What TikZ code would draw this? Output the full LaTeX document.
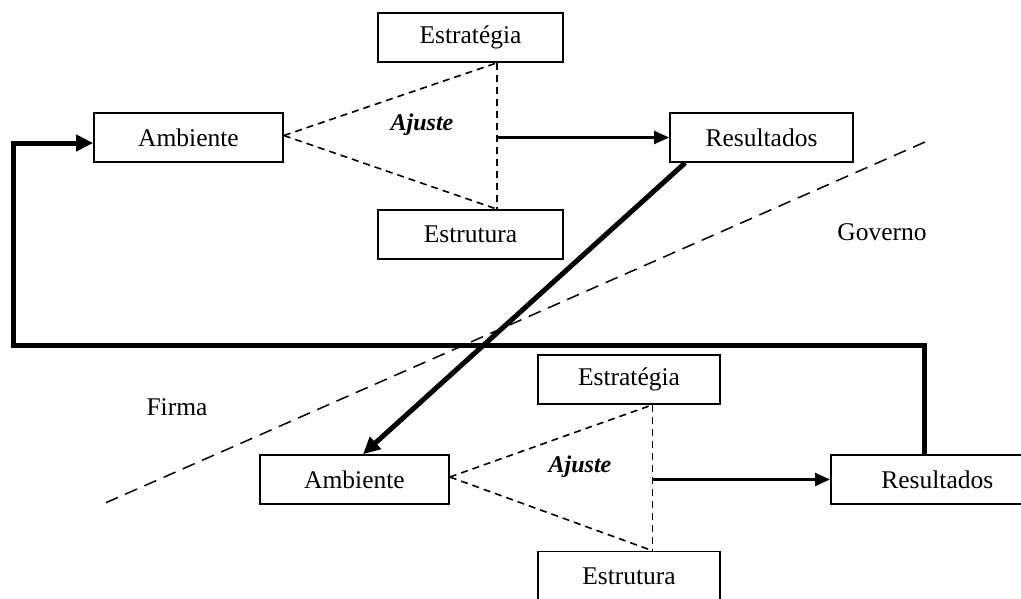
\documentclass[tikz,border=0pt]{standalone}
\usepackage{fontspec}
\setmainfont{Liberation Serif}
\usetikzlibrary{arrows.meta}
\begin{document}
\begin{tikzpicture}[x=1pt,y=-1pt,
  txt/.style={font=\fontsize{25.5}{30}\selectfont, inner sep=0pt},
  boxn/.style={draw, line width=1.7pt, minimum height=49pt, inner sep=0pt, font=\fontsize{25.5}{30}\selectfont},
  ajl/.style={font=\fontsize{24}{28}\selectfont\bfseries\itshape, inner sep=0pt},
  fitline/.style={line width=1.6pt, dash pattern=on 7pt off 5pt},
  sepline/.style={line width=1.5pt, dash pattern=on 13pt off 8pt},
  thinarrow/.style={line width=2.2pt, -{Triangle[length=15pt,width=13pt]}},
  thickarrow/.style={line width=5pt, -{Triangle[length=17pt,width=16pt]}}
]
\useasboundingbox (0,0) rectangle (1021,598);
\clip (0,0) rectangle (1021,598);
% top cluster
\node[boxn, minimum width=185pt] (estT) at (470.5,37.5) {Estratégia};
\node[boxn, minimum width=189pt] (ambT) at (188.5,137.5) {Ambiente};
\node[boxn, minimum width=185pt] (struT) at (470.5,234.5) {Estrutura};
\node[boxn, minimum width=183pt] (resT) at (761.5,137.5) {Resultados};
\node[ajl] (ajT) at (422,125) {Ajuste};
% bottom cluster
\node[boxn, minimum width=182pt] (estB) at (629,379.5) {Estratégia};
\node[boxn, minimum width=189pt] (ambB) at (354.5,479.5) {Ambiente};
\node[boxn, minimum width=182pt] (struB) at (629,576) {Estrutura};
\node[boxn, minimum width=260pt, anchor=west] (resB) at (830,479.5) {Resultados\hspace*{47pt}};
\node[ajl] (ajB) at (580,467) {Ajuste};
% region labels
\node[txt] (gov) at (882,232) {Governo};
\node[txt] (firma) at (177,407) {Firma};
% top fit triangle
\coordinate (vT1) at ([xshift=26.5pt]estT.south);
\coordinate (vT2) at ([xshift=26.5pt]struT.north);
\coordinate (apT) at ([yshift=2pt]ambT.east);
\draw[fitline] (vT1) -- (vT2);
\draw[fitline] (apT) -- (vT1);
\draw[fitline] (apT) -- (vT2);
\draw[thinarrow] (vT1 |- resT.west) -- (resT.west);
% bottom fit triangle
\coordinate (vB1) at ([xshift=23.3pt]estB.south);
\coordinate (vB2) at ([xshift=23.3pt]struB.north);
\coordinate (apB) at ([yshift=2.5pt]ambB.east);
\draw[fitline] (vB1) -- (vB2);
\draw[fitline] (apB) -- (vB1);
\draw[fitline] (apB) -- (vB2);
\draw[thinarrow] (vB1 |- resB.west) -- (resB.west);
% separating dashed line
\coordinate (s1) at (925,142);
\coordinate (s2) at (103,504);
\draw[sepline] (s1) -- (s2);
% thick connectors
\coordinate (fbA) at (924.3,345);
\coordinate (fbB) at (13,345);
\draw[thickarrow] (fbA |- resB.north) -- (fbA) -- (fbB) |- ([yshift=-5.5pt]ambT.west);
\draw[thickarrow] ([xshift=16pt]resT.south west) -- ([xshift=8.5pt]ambB.north);
\end{tikzpicture}
\end{document}
